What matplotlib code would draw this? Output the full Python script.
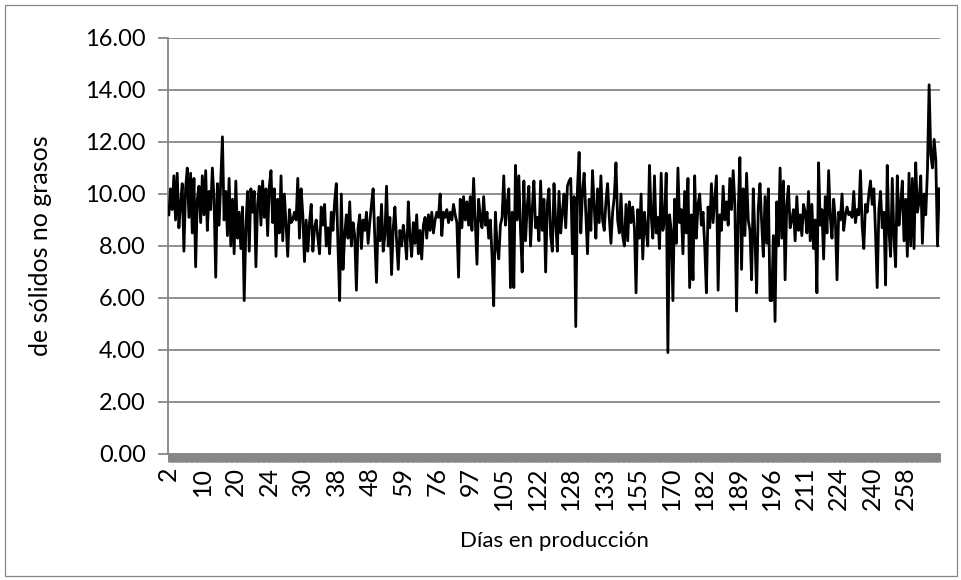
import numpy as np
import matplotlib
matplotlib.use('Agg')
import matplotlib.pyplot as plt
from matplotlib.patches import Rectangle
from matplotlib.ticker import FormatStrFormatter

plt.rcParams['font.family'] = ['Lato', 'DejaVu Sans']

### Data: solids-not-fat per sample, ordered by days in production
snf_values = [
    9.2, 10.2, 9.4, 10.7, 9.0, 10.8, 8.7, 9.6, 10.4, 7.8, 10.2, 11.0, 9.1, 10.8, 8.5, 10.6, 7.2, 9.8, 10.3, 8.9,
    10.7, 9.2, 10.9, 8.6, 10.1, 9.4, 11.0, 9.8, 6.8, 10.4, 8.8, 10.5, 12.2, 9.0, 10.1, 8.4, 10.6, 8.0, 9.8, 7.7,
    10.5, 8.3, 9.3, 7.9, 9.5, 5.9, 8.7, 10.1, 7.8, 10.2, 9.3, 10.1, 7.2, 9.6, 10.3, 8.8, 10.5, 9.1, 10.2, 8.4,
    10.3, 10.9, 8.9, 10.2, 7.6, 9.8, 8.5, 10.7, 8.2, 10.0, 8.8, 7.6, 9.4, 8.9, 9.0, 9.3, 9.0, 10.6, 8.3, 10.2,
    9.2, 7.4, 9.0, 7.8, 8.9, 9.6, 7.8, 8.7, 9.0, 8.3, 7.7, 9.5, 8.8, 9.6, 8.0, 8.7, 7.7, 9.3, 8.6, 9.7,
    10.4, 8.0, 5.9, 10.0, 7.1, 8.4, 9.2, 8.3, 9.7, 8.0, 8.9, 8.4, 6.3, 8.7, 9.2, 7.9, 9.0, 8.6, 9.3, 8.1,
    8.9, 9.6, 10.2, 8.3, 6.6, 9.1, 8.2, 9.6, 7.8, 8.4, 10.3, 8.0, 9.1, 6.9, 8.7, 9.5, 8.2, 7.1, 8.6, 8.0,
    8.8, 8.3, 7.5, 9.7, 8.4, 7.6, 8.9, 8.1, 9.2, 7.7, 8.6, 7.5, 8.8, 9.1, 8.3, 9.2, 8.6, 9.3, 8.5, 9.0,
    9.3, 9.1, 10.0, 8.4, 9.3, 9.1, 9.4, 8.9, 9.3, 9.0, 9.6, 9.2, 8.9, 6.8, 9.8, 8.7, 9.9, 9.0, 9.7, 8.8,
    9.9, 8.6, 10.6, 8.9, 7.3, 9.8, 9.1, 8.7, 9.9, 8.8, 9.3, 8.3, 9.0, 7.6, 5.7, 9.3, 8.0, 7.5, 8.8, 9.1,
    10.7, 8.8, 9.6, 10.2, 6.4, 9.3, 6.4, 11.1, 9.0, 10.7, 8.6, 7.0, 10.5, 8.2, 9.5, 10.3, 8.0, 9.4, 10.5, 8.7,
    9.1, 8.2, 10.5, 8.6, 9.8, 7.0, 9.6, 10.2, 8.4, 7.8, 10.4, 8.9, 7.8, 10.1, 8.5, 9.3, 10.0, 8.7, 10.3, 10.5,
    10.6, 7.7, 9.9, 4.9, 10.2, 11.6, 8.5, 10.1, 10.8, 9.2, 7.7, 9.8, 8.6, 10.9, 9.5, 8.3, 10.2, 8.9, 10.7, 9.0,
    8.6, 9.7, 10.4, 9.1, 8.1, 9.3, 9.9, 11.2, 9.0, 8.5, 10.0, 8.4, 8.0, 9.6, 8.2, 9.7, 8.9, 9.5, 8.7, 6.2,
    9.4, 8.3, 10.0, 7.5, 9.3, 8.6, 8.0, 11.1, 9.2, 8.3, 10.7, 8.5, 9.1, 7.9, 10.8, 8.6, 9.0, 10.8, 3.9, 9.2,
    8.6, 5.9, 9.8, 8.1, 11.0, 8.9, 9.4, 7.7, 10.1, 8.5, 10.6, 6.4, 9.2, 6.7, 10.7, 8.3, 9.6, 10.0, 8.8, 9.3,
    8.0, 6.2, 9.5, 8.7, 10.4, 8.9, 9.8, 10.7, 6.3, 9.2, 8.6, 10.3, 9.0, 9.7, 8.8, 10.6, 9.4, 10.9, 9.6, 5.5,
    9.3, 11.4, 7.1, 10.2, 8.4, 10.8, 9.0, 8.6, 6.7, 10.2, 8.3, 6.2, 9.5, 10.4, 8.9, 7.6, 9.9, 8.1, 10.2, 5.9,
    5.9, 8.4, 5.1, 9.7, 8.0, 11.0, 8.3, 10.5, 6.7, 9.6, 10.3, 8.7, 9.0, 9.4, 8.2, 9.9, 8.6, 9.2, 8.4, 9.6,
    9.3, 8.5, 10.1, 8.2, 9.6, 7.9, 9.0, 6.2, 11.2, 8.8, 9.4, 7.5, 9.9, 8.5, 10.9, 9.1, 8.3, 9.8, 9.0, 6.7,
    9.3, 9.0, 10.0, 8.6, 9.2, 9.5, 9.2, 9.3, 9.1, 10.1, 8.9, 9.4, 9.2, 10.9, 8.8, 7.9, 9.6, 9.3, 10.0, 10.5,
    9.6, 10.2, 8.5, 6.4, 9.4, 10.1, 8.7, 9.3, 6.5, 11.1, 8.6, 7.6, 10.6, 8.3, 7.2, 10.7, 8.8, 9.6, 10.5, 8.2,
    9.8, 7.6, 10.8, 8.0, 10.6, 7.9, 11.2, 9.3, 9.7, 10.7, 8.1, 10.0, 9.2, 10.9, 14.2, 11.5, 11.0, 12.1, 11.3, 8.0, 10.2,
]

# day labels shown on the category axis (one every 20 samples)
day_labels = ['2', '10', '20', '24', '30', '38', '48', '59', '76', '97', '105', '122',
              '128', '133', '155', '170', '182', '189', '196', '211', '224', '240', '258']
label_step = 20

y_ticks = [0, 2, 4, 6, 8, 10, 12, 14, 16]

### Figure
W, H = 962, 580
fig = plt.figure(figsize=(W/100, H/100), dpi=100)
fig.patches.append(Rectangle((5/W, 4/H), 952/W, 571/H, transform=fig.transFigure,
                             fill=False, edgecolor='#868686', linewidth=0.9))

ax = fig.add_axes([168/W, 1 - 454/H, (940 - 168)/W, (454 - 38)/H])

n = len(snf_values)
x = np.arange(n)
ax.plot(x, snf_values, color='black', linewidth=2.0, solid_joinstyle='round', zorder=3)

grid_col = '#878787'
ax.set_xlim(-0.5, n - 0.5)
ax.set_ylim(0, 16)
ax.set_yticks(y_ticks)
ax.yaxis.set_major_formatter(FormatStrFormatter('%.2f'))
ax.yaxis.grid(True, color=grid_col, linewidth=1.3)
ax.set_axisbelow(True)

ax.set_xticks(x[::label_step][:len(day_labels)])
ax.set_xticklabels(day_labels, rotation=90)
ax.set_xticks(x, minor=True)

for side in ['top', 'right']:
    ax.spines[side].set_visible(False)
for side in ['left', 'bottom']:
    ax.spines[side].set_color(grid_col)
    ax.spines[side].set_linewidth(1.3)

ax.tick_params(axis='y', direction='out', length=7, width=1.3, color=grid_col,
               labelsize=17, pad=9)
ax.tick_params(axis='x', which='both', direction='out', length=6, width=2.2,
               color=grid_col, labelsize=18, pad=3)

ax.set_ylabel('de sólidos no grasos', fontsize=18, labelpad=24)
ax.set_xlabel('Días en producción', fontsize=16, labelpad=15)

fig.savefig('out.png', dpi=100)
